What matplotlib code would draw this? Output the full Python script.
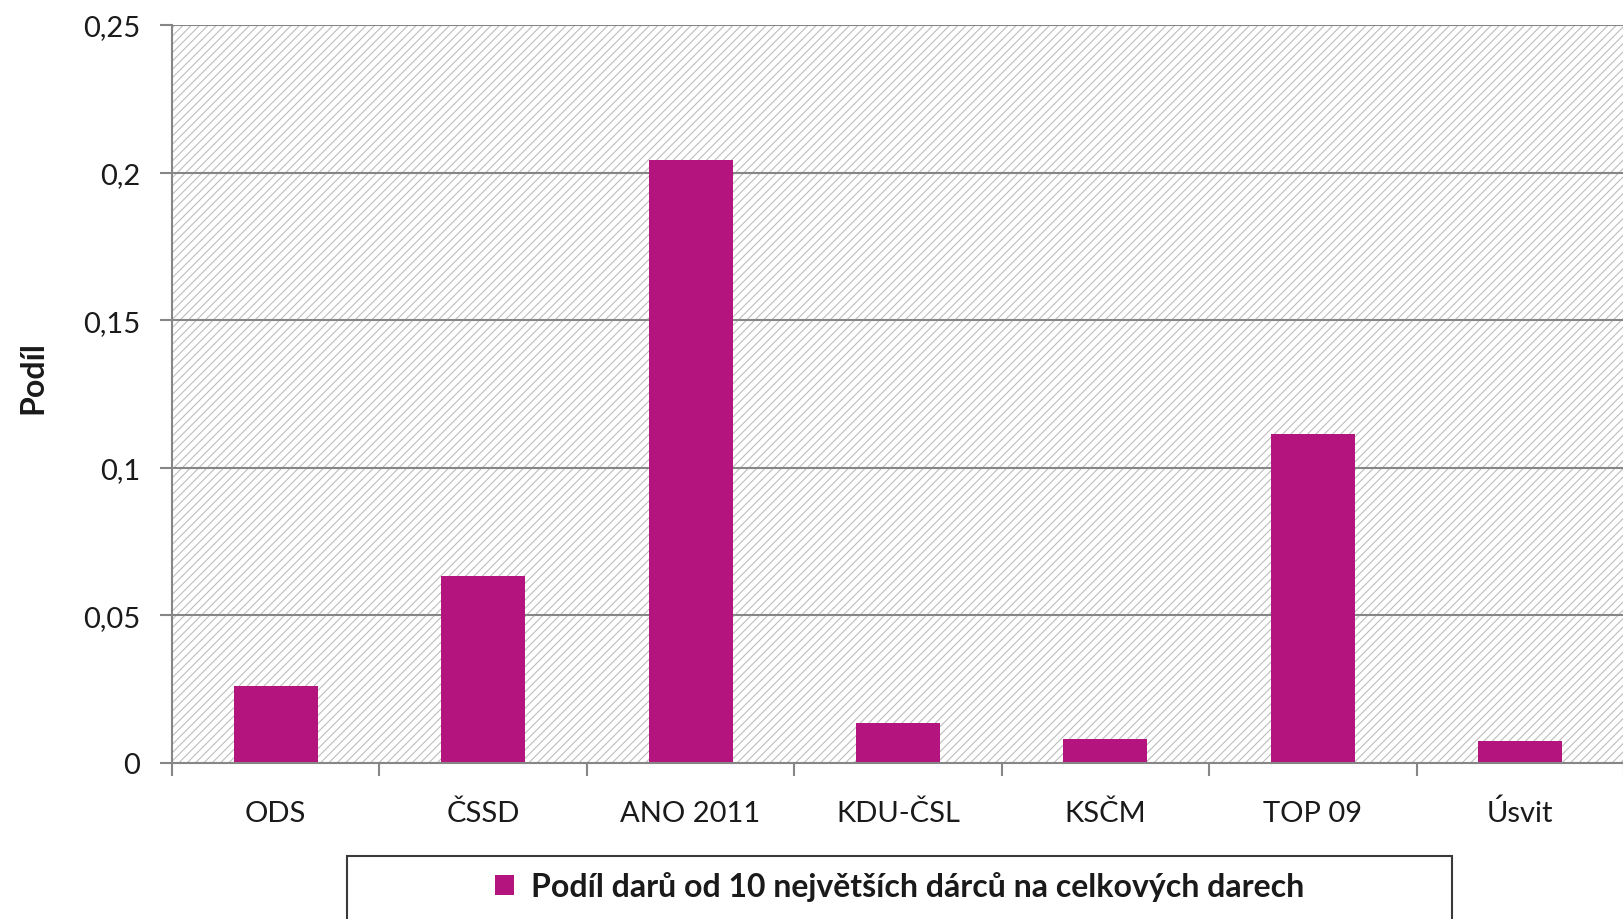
import matplotlib.pyplot as plt
import numpy as np
from matplotlib.patches import Rectangle, Patch

# Data
parties = ['ODS', 'ČSSD', 'ANO 2011', 'KDU-ČSL', 'KSČM', 'TOP 09', 'Úsvit']
share = [0.0262, 0.0635, 0.2043, 0.0136, 0.0080, 0.1115, 0.0073]
yticks = [0, 0.05, 0.1, 0.15, 0.2, 0.25]
ytick_labels = ['0', '0,05', '0,1', '0,15', '0,2', '0,25']
series_name = 'Podíl darů od 10 největších dárců na celkových darech'
y_title = 'Podíl'

bar_color = '#b4147e'
grid_color = '#868686'
text_color = '#1a1a1a'

plt.rcParams['font.family'] = ['Lato', 'DejaVu Sans']
plt.rcParams['hatch.linewidth'] = 0.8

fig = plt.figure(figsize=(16.23, 9.2), dpi=100)
ax = fig.add_axes([172 / 1623, 1 - 764 / 920, 1452 / 1623, (764 - 26) / 920])

# hatched background
ax.add_patch(Rectangle((0, 0), 1, 1, transform=ax.transAxes, facecolor='white',
                       edgecolor='#bdbdbd', hatch='////', lw=0, zorder=0))

x = np.arange(len(parties))
ax.bar(x, share, width=0.405, color=bar_color, zorder=3)

ax.set_xlim(-0.5, len(parties) - 0.5)
ax.set_ylim(0, 0.25)
ax.set_yticks(yticks)
ax.set_yticklabels(ytick_labels)
ax.set_xticks(x)
ax.set_xticklabels(parties)
ax.set_xticks(np.arange(-0.5, len(parties)), minor=True)

for y in yticks[1:]:
    ax.axhline(y, color=grid_color, lw=1.5, zorder=2)

for s in ['top', 'right']:
    ax.spines[s].set_visible(False)
ax.spines['left'].set_color(grid_color)
ax.spines['left'].set_linewidth(1.5)
ax.spines['bottom'].set_color(grid_color)
ax.spines['bottom'].set_linewidth(1.5)
ax.spines['left'].set_zorder(4)
ax.spines['bottom'].set_zorder(4)

ax.tick_params(axis='y', length=9, width=1.5, color=grid_color, pad=14,
               labelsize=21, labelcolor=text_color)
ax.tick_params(axis='x', which='major', length=0, pad=42, labelsize=21,
               labelcolor=text_color)
ax.tick_params(axis='x', which='minor', length=9.5, width=1.5, color=grid_color)
for lbl in ax.xaxis.get_majorticklabels():
    lbl.set_verticalalignment('baseline')

ax.set_ylabel(y_title, fontsize=23, fontweight='bold', color=text_color)
ax.yaxis.set_label_coords(-0.086, 0.523)

# legend with its box
fig.add_artist(Rectangle((347 / 1623, -0.02), (1452 - 347) / 1623, 1 - 857 / 920 + 0.02,
                         transform=fig.transFigure, fill=False,
                         edgecolor='#3a3a3a', lw=1.5))
fig.legend([Patch(facecolor=bar_color)], [series_name], loc='center',
           bbox_to_anchor=(900 / 1623, 1 - 887 / 920), frameon=False,
           prop={'size': 23, 'weight': 'bold'}, handlelength=0.57,
           handleheight=0.57, handletextpad=0.55, labelcolor=text_color)

fig.savefig('out.png', dpi=100)
